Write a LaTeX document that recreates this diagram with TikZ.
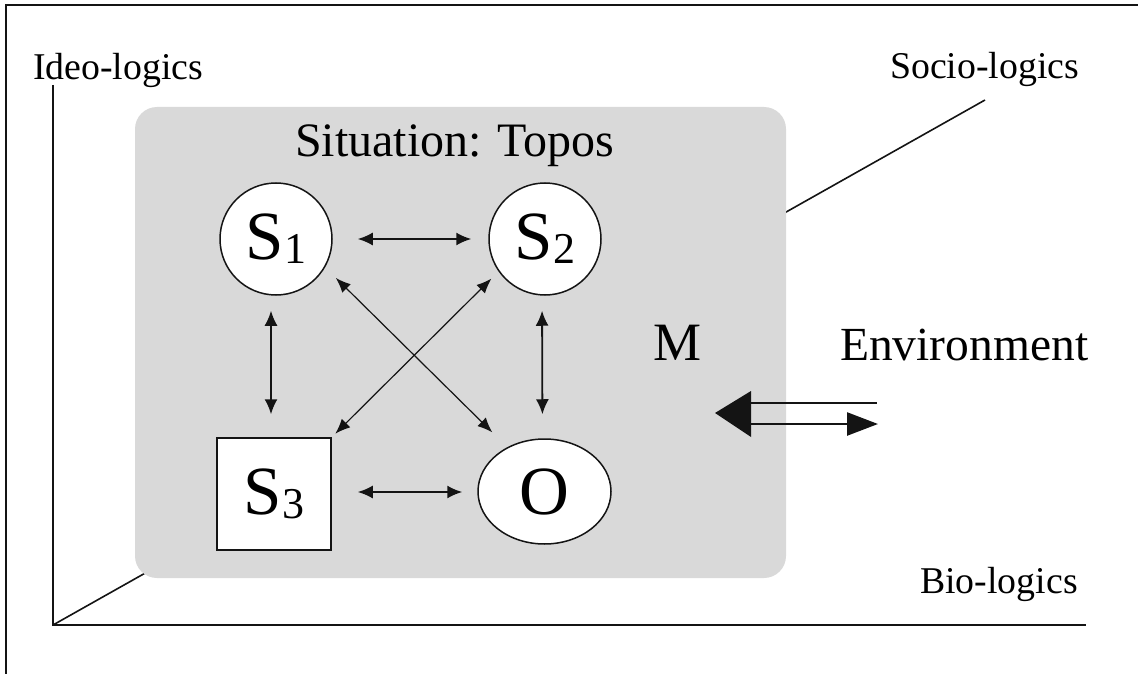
\documentclass[tikz,border=0pt]{standalone}
\usepackage{fontspec}
\setmainfont{Liberation Serif}
\usetikzlibrary{arrows.meta,shapes.geometric}
\definecolor{boxgray}{RGB}{217,217,217}
\definecolor{ink}{RGB}{20,20,20}
\newcommand{\subidx}[1]{\raisebox{-4pt}{\fontsize{44}{44}\selectfont #1}}
\begin{document}
\begin{tikzpicture}[x=1pt,y=-1pt,
  lab/.style={anchor=base west,inner sep=0pt,font=\fontsize{37.8}{40}\selectfont},
  biglab/.style={anchor=base west,inner sep=0pt,font=\fontsize{47.5}{50}\selectfont},
  ent/.style={draw=ink,line width=1.5pt,fill=white,inner sep=0pt,font=\fontsize{69}{70}\selectfont},
  link/.style={ink,line width=1.8pt,{Latex[length=15pt,width=13pt]}-{Latex[length=15pt,width=13pt]}},
  diag/.style={ink,line width=1.2pt,{Latex[length=15pt,width=12pt]}-{Latex[length=15pt,width=12pt]}},
  axis/.style={ink,line width=2pt}]
\useasboundingbox (0,0) rectangle (1138,674);
% frame
\draw[ink,line width=2pt] (6,680) -- (6,5) -- (1145,5);
% axes
\coordinate (orig) at (53,625);
\coordinate (ytop) at (53,85);
\coordinate (xend) at (1086,625);
\coordinate (zend) at (985,100);
\draw[axis] (ytop) -- (orig) -- (xend);
\draw[axis,line width=1.6pt] (orig) -- (zend);
% axis labels
\node[lab] (ideo) at (33,80) {Ideo-logics};
\node[lab] (socio) at (890,79) {Socio-logics};
\node[lab] (bio) at (920,593) {Bio-logics};
% situation box
\fill[boxgray,rounded corners=22pt] (135,107) rectangle (786,578);
\node[anchor=base west,inner sep=0pt,font=\fontsize{48}{50}\selectfont] (sit) at (295,157) {Situation: Topos};
\node[anchor=base west,inner sep=0pt,font=\fontsize{54}{56}\selectfont] (m) at (653,360) {M};
\node[biglab] (env) at (840,360) {Environment};
% entities
\node[ent,circle,minimum size=112pt] (s1) at (276,239) {S\subidx{1}};
\node[ent,circle,minimum size=112pt] (s2) at (545,239) {S\subidx{2}};
\node[ent,rectangle,minimum width=114pt,minimum height=112pt] (s3) at (274,494) {S\subidx{3}};
\node[ent,ellipse,minimum width=133pt,minimum height=105pt] (o) at (544.5,491.5) {O};
% links
\draw[link,shorten <=25pt,shorten >=17pt] (s1.east) -- (s2.west);
\draw[link,shorten <=26pt,shorten >=15pt] ([yshift=2pt]s3.east) -- ([yshift=-0.5pt]o.west);
\draw[link,shorten <=15pt,shorten >=23pt] ([xshift=-5pt]s1.south) -- ([xshift=-3pt]s3.north);
\draw[link,shorten <=15pt,shorten >=24pt] ([xshift=-3pt]s2.south) -- ([xshift=-2pt]o.north);
\draw[diag,shorten <=15pt,shorten >=21pt] (s1.-30.5) -- (o.130);
\draw[diag,shorten <=10pt,shorten >=5pt] (s2.215) -- (s3.north east);
% environment exchange
\coordinate (etip) at (715,413);
\coordinate (eback) at (877,403);
\coordinate (eout) at (878,424);
\fill[ink] (etip) -- (751,391) -- (751,437) -- cycle;
\draw[ink,line width=2.5pt] (750,403) -- (eback);
\draw[ink,line width=2.5pt,-{Triangle[length=31pt,width=23pt]}] (750,424) -- (eout);
\end{tikzpicture}
\end{document}
